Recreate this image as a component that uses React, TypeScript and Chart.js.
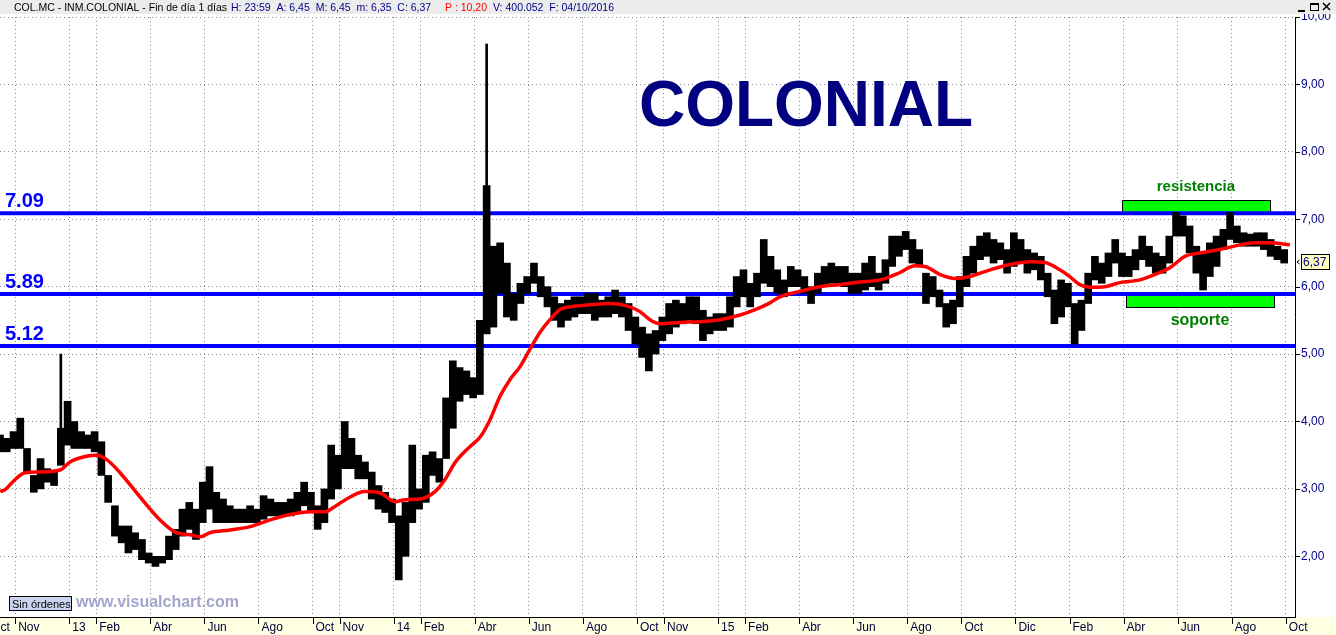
import React, { useEffect, useRef } from 'react';
import { Chart, registerables } from 'chart.js';

Chart.register(...registerables);

// ---------- DATA (months counted from 1 Oct 2012) ----------
const FIRST_BAR_MONTH = 0.44;
const BAR_STEP = 0.25; // one bar per ~week

const priceLow = [
  3.55, 3.55, 3.6, 3.6, 3.25, 2.95, 3.0, 3.1, 3.05, 3.35,
  3.65, 3.6, 3.6, 3.6, 3.55, 3.2, 2.8, 2.3, 2.2, 2.05,
  2.1, 1.95, 1.9, 1.85, 1.9, 1.95, 2.1, 2.3, 2.4, 2.25,
  2.5, 2.7, 2.5, 2.5, 2.5, 2.5, 2.5, 2.5, 2.5, 2.55,
  2.6, 2.6, 2.6, 2.6, 2.65, 2.75, 2.65, 2.4, 2.5, 2.85,
  3.0, 3.3, 3.3, 3.15, 3.15, 2.85, 2.7, 2.65, 2.5, 1.65,
  2.0, 2.5, 2.7, 2.8, 3.2, 3.1, 3.45, 3.9, 4.3, 4.4,
  4.35, 4.4, 5.3, 5.4, 5.9, 5.55, 5.5, 5.75, 5.9, 6.05,
  5.85, 5.7, 5.5, 5.4, 5.5, 5.55, 5.6, 5.6, 5.5, 5.55,
  5.55, 5.6, 5.55, 5.35, 5.15, 4.95, 4.75, 5.0, 5.2, 5.3,
  5.4, 5.45, 5.5, 5.45, 5.2, 5.3, 5.35, 5.35, 5.4, 5.7,
  5.85, 5.7, 5.85, 6.05, 6.0, 5.9, 5.85, 6.0, 6.0, 5.9,
  5.75, 5.9, 6.0, 6.05, 6.05, 6.0, 5.9, 5.9, 5.95, 6.0,
  5.95, 6.05, 6.3, 6.45, 6.55, 6.35, 6.3, 5.75, 5.85, 5.7,
  5.4, 5.45, 5.7, 6.0, 6.2, 6.4, 6.45, 6.35, 6.4, 6.2,
  6.3, 6.35, 6.2, 6.25, 6.1, 5.85, 5.45, 5.55, 5.7, 5.15,
  5.35, 5.75, 6.1, 6.05, 6.15, 6.35, 6.15, 6.15, 6.25, 6.4,
  6.3, 6.2, 6.2, 6.35, 6.75, 6.75, 6.5, 6.2, 5.95, 6.15,
  6.3, 6.55, 6.7, 6.65, 6.6, 6.6, 6.6, 6.55, 6.45, 6.4,
  6.35,
];

const priceHigh = [
  3.8, 3.75, 3.85, 4.05, 3.6, 3.2, 3.45, 3.3, 3.25, 3.9,
  4.3, 4.0, 3.85, 3.8, 3.85, 3.7, 3.2, 2.75, 2.45, 2.45,
  2.35, 2.25, 2.05, 2.0, 2.0, 2.3, 2.4, 2.7, 2.8, 2.7,
  3.1, 3.33, 2.95, 2.85, 2.75, 2.7, 2.7, 2.75, 2.7, 2.9,
  2.85, 2.8, 2.8, 2.85, 2.95, 3.1, 2.95, 2.75, 3.0, 3.65,
  3.5, 4.0, 3.75, 3.5, 3.4, 3.25, 3.05, 2.95, 2.85, 2.6,
  2.8, 3.65, 3.0, 3.5, 3.55, 3.45, 4.35, 4.9, 4.8, 4.75,
  4.65, 5.5, 7.5, 6.6, 6.65, 6.35, 5.9, 6.05, 6.15, 6.35,
  6.15, 6.0, 5.85, 5.75, 5.8, 5.85, 5.85, 5.9, 5.9, 5.8,
  5.85, 5.95, 5.85, 5.75, 5.55, 5.4, 5.3, 5.35, 5.55, 5.75,
  5.8, 5.75, 5.85, 5.85, 5.65, 5.55, 5.6, 5.6, 5.85, 6.15,
  6.25, 6.05, 6.2, 6.7, 6.45, 6.25, 6.1, 6.3, 6.25, 6.15,
  6.0, 6.2, 6.3, 6.35, 6.3, 6.3, 6.2, 6.2, 6.35, 6.45,
  6.2, 6.4, 6.75, 6.75, 6.82, 6.7, 6.55, 6.2, 6.15, 5.95,
  5.75, 5.8, 6.15, 6.45, 6.6, 6.75, 6.8, 6.7, 6.65, 6.55,
  6.8, 6.7, 6.55, 6.5, 6.45, 6.2, 5.95, 6.1, 6.05, 5.75,
  5.8, 6.2, 6.45, 6.35, 6.5, 6.7, 6.5, 6.45, 6.55, 6.75,
  6.6, 6.5, 6.45, 6.75, 7.1, 7.05, 6.9, 6.6, 6.5, 6.65,
  6.75, 6.85, 7.1, 6.9, 6.8, 6.78, 6.8, 6.8, 6.7, 6.6,
  6.55,
];

// thin spikes (wicks) on top of some bars
const wickBar = [9, 72];
const wickLow = [3.9, 7.5];
const wickHigh = [5.0, 9.6];

// red moving average
const maMonths = [
  0.45, 0.63, 1.0, 1.37, 1.92, 2.66, 3.03, 3.59, 4.03, 4.4, 4.88, 5.62, 6.36, 6.92, 7.47, 7.84,
  8.21, 8.95, 9.69, 10.43, 11.17, 11.91, 12.46, 12.83, 13.39, 13.94, 14.5, 15.05, 15.42,
  15.98, 16.53, 16.9, 17.27, 17.83, 18.2, 18.57, 18.93, 19.3, 19.67, 20.04, 20.41, 20.78,
  21.15, 21.52, 22.26, 23.0, 23.74, 24.11, 24.48, 24.85, 25.59, 26.33, 27.07, 27.81, 28.55,
  28.92, 29.29, 30.03, 30.77, 31.51, 32.25, 32.99, 33.73, 34.28, 34.65, 35.21, 35.76, 36.32,
  37.06, 37.8, 38.54, 39.09, 39.64, 40.01, 40.38, 40.75, 41.31, 41.86, 42.6, 43.34, 43.71,
  44.27, 44.82, 45.56, 46.3, 46.86, 47.41, 48.15,
];
const maValues = [
  2.96, 2.99, 3.14, 3.24, 3.25, 3.28, 3.4, 3.48, 3.5, 3.43, 3.24, 2.88, 2.54, 2.36, 2.32, 2.29,
  2.35, 2.39, 2.44, 2.54, 2.62, 2.66, 2.66, 2.74, 2.88, 2.96, 2.94, 2.81, 2.84,
  2.85, 2.96, 3.14, 3.39, 3.63, 3.77, 4.03, 4.37, 4.62, 4.81, 5.07, 5.32, 5.51,
  5.66, 5.7, 5.73, 5.75, 5.7, 5.63, 5.51, 5.45, 5.47, 5.48, 5.51, 5.58, 5.69,
  5.76, 5.85, 5.93, 6.0, 6.03, 6.07, 6.1, 6.21, 6.31, 6.3, 6.18, 6.12, 6.15,
  6.25, 6.33, 6.37, 6.36, 6.25, 6.15, 6.03, 5.99, 6.0, 6.06, 6.1, 6.21, 6.28,
  6.45, 6.5, 6.55, 6.62, 6.65, 6.65, 6.62,
];

const levelValues = [7.09, 5.89, 5.12];
const levelLabels = ['7.09', '5.89', '5.12'];

const monthTicks = [0, 1, 3, 4, 6, 8, 10, 12, 13, 15, 16, 18, 20, 22, 24, 25, 27, 28, 30, 32, 34, 36, 38, 40, 42, 44, 46, 48];
const monthLabels = ['Oct', 'Nov', '13', 'Feb', 'Abr', 'Jun', 'Ago', 'Oct', 'Nov', '14', 'Feb', 'Abr', 'Jun', 'Ago', 'Oct', 'Nov', '15', 'Feb', 'Abr', 'Jun', 'Ago', 'Oct', 'Dic', 'Feb', 'Abr', 'Jun', 'Ago', 'Oct'];

const priceTicks = [2, 3, 4, 5, 6, 7, 8, 9, 10];

const X_MIN = 0.44;
const X_MAX = 48.34;
const Y_MIN = 1.1;
const Y_MAX = 10;

const resistanceBox = { fromMonth: 41.94, toMonth: 47.41, low: 7.09, high: 7.285 };
const supportBox = { fromMonth: 42.09, toMonth: 47.56, low: 5.7, high: 5.89 };

const lastPrice = 6.37;

const headerParts: [string, string, number][] = [
  ['COL.MC - INM.COLONIAL - Fin de día 1 días', '#000000', 14],
  ['H: 23:59  A: 6,45  M: 6,45  m: 6,35  C: 6,37', '#00008b', 231],
  ['P : 10,20', '#ff0000', 445],
  ['V: 400.052  F: 04/10/2016', '#00008b', 493],
];

// ---------- STYLE ----------
const FONT = '"Liberation Sans", Arial, Helvetica, sans-serif';

const decorPlugin = {
  id: 'decor',
  beforeDraw(chart: any) {
    const { ctx, width, height, chartArea } = chart;
    ctx.save();
    ctx.fillStyle = '#ffffff';
    ctx.fillRect(0, 0, width, height);
    ctx.fillStyle = '#ffffe1';
    ctx.fillRect(0, chartArea.bottom, width, height - chartArea.bottom);
    ctx.restore();
  },
  beforeDatasetsDraw(chart: any) {
    const { ctx } = chart;
    const x = chart.scales.x;
    const y = chart.scales.y;
    ctx.save();
    for (const b of [resistanceBox, supportBox]) {
      const x1 = Math.round(x.getPixelForValue(b.fromMonth));
      const x2 = Math.round(x.getPixelForValue(b.toMonth));
      const y1 = Math.round(y.getPixelForValue(b.high));
      const y2 = Math.round(y.getPixelForValue(b.low));
      ctx.fillStyle = '#00ff00';
      ctx.fillRect(x1, y1, x2 - x1, y2 - y1);
      ctx.strokeStyle = '#000000';
      ctx.lineWidth = 1;
      ctx.strokeRect(x1 + 0.5, y1 + 0.5, x2 - x1, y2 - y1);
    }
    ctx.restore();
  },
  afterDatasetsDraw(chart: any) {
    const { ctx, chartArea } = chart;
    const x = chart.scales.x;
    const y = chart.scales.y;
    ctx.save();
    // level labels
    ctx.font = `bold 20px ${FONT}`;
    ctx.fillStyle = '#0000ff';
    ctx.textAlign = 'left';
    ctx.textBaseline = 'alphabetic';
    levelValues.forEach((v, i) => {
      ctx.fillText(levelLabels[i], chartArea.left + 5, y.getPixelForValue(v) - 6);
    });
    // title
    ctx.font = `bold 64px ${FONT}`;
    ctx.fillStyle = '#000080';
    ctx.textAlign = 'center';
    ctx.fillText('COLONIAL', 806, 126);
    // box captions
    ctx.fillStyle = '#008000';
    ctx.font = `bold 15px ${FONT}`;
    const rx = (x.getPixelForValue(resistanceBox.fromMonth) + x.getPixelForValue(resistanceBox.toMonth)) / 2;
    ctx.fillText('resistencia', rx, y.getPixelForValue(resistanceBox.high) - 9);
    ctx.font = `bold 16px ${FONT}`;
    const sx = (x.getPixelForValue(supportBox.fromMonth) + x.getPixelForValue(supportBox.toMonth)) / 2;
    ctx.fillText('soporte', sx, y.getPixelForValue(supportBox.low) + 18);
    // bottom-left badge and watermark
    ctx.fillStyle = '#c8d4f0';
    ctx.fillRect(9, 596, 63, 15);
    ctx.strokeStyle = '#000000';
    ctx.lineWidth = 1;
    ctx.strokeRect(9.5, 596.5, 62, 14);
    ctx.fillStyle = '#000000';
    ctx.textAlign = 'left';
    ctx.font = `11px ${FONT}`;
    ctx.fillText('Sin órdenes', 12, 608);
    ctx.font = `bold 16px ${FONT}`;
    ctx.fillStyle = '#a4a4cc';
    ctx.fillText('www.visualchart.com', 76, 607);
    ctx.restore();
  },
  afterDraw(chart: any) {
    const { ctx, width, chartArea } = chart;
    const x = chart.scales.x;
    const y = chart.scales.y;
    ctx.save();
    // x tick marks
    ctx.strokeStyle = '#000000';
    ctx.lineWidth = 1;
    monthTicks.forEach((m) => {
      const px = Math.round(x.getPixelForValue(m)) + 0.5;
      if (px < 0 || px > width) return;
      ctx.beginPath();
      ctx.moveTo(px, chartArea.bottom + 1);
      ctx.lineTo(px, chartArea.bottom + 7);
      ctx.stroke();
    });
    // y tick marks
    priceTicks.forEach((v) => {
      const py = Math.round(y.getPixelForValue(v)) + 0.5;
      ctx.beginPath();
      ctx.moveTo(chartArea.right + 1, py);
      ctx.lineTo(chartArea.right + 5, py);
      ctx.stroke();
    });
    // last price tag
    const py = Math.round(y.getPixelForValue(lastPrice));
    ctx.fillStyle = '#ffffc0';
    ctx.fillRect(chartArea.right + 6, py - 8, 29, 16);
    ctx.strokeRect(chartArea.right + 6.5, py - 7.5, 28, 15);
    ctx.beginPath();
    ctx.moveTo(chartArea.right + 4.5, py - 2);
    ctx.lineTo(chartArea.right + 2, py);
    ctx.lineTo(chartArea.right + 4.5, py + 2);
    ctx.stroke();
    ctx.fillStyle = '#00008b';
    ctx.font = `12px ${FONT}`;
    ctx.textAlign = 'left';
    ctx.textBaseline = 'middle';
    ctx.fillText(lastPrice.toFixed(2).replace('.', ','), chartArea.right + 8, py + 1);
    // header bar
    ctx.fillStyle = '#ececec';
    ctx.fillRect(0, 0, width, 14);
    ctx.font = `10.5px ${FONT}`;
    ctx.textBaseline = 'alphabetic';
    headerParts.forEach(([t, c, hx]) => {
      ctx.fillStyle = c;
      ctx.fillText(t, hx, 11);
    });
    // window buttons
    ctx.strokeStyle = '#000000';
    ctx.lineWidth = 2;
    ctx.beginPath();
    ctx.moveTo(1298, 11); ctx.lineTo(1305, 11);
    ctx.stroke();
    ctx.lineWidth = 1;
    ctx.strokeRect(1310.5, 3.5, 8, 7);
    ctx.beginPath();
    ctx.moveTo(1310.5, 4.5); ctx.lineTo(1318.5, 4.5);
    ctx.stroke();
    ctx.lineWidth = 1.5;
    ctx.beginPath();
    ctx.moveTo(1323, 3); ctx.lineTo(1330, 10);
    ctx.moveTo(1330, 3); ctx.lineTo(1323, 10);
    ctx.stroke();
    ctx.restore();
  },
};

export default function App() {
  const ref = useRef<HTMLCanvasElement>(null);

  useEffect(() => {
    const canvas = ref.current;
    if (!canvas) return;

    const barData = priceLow.map((lo, k) => ({ x: FIRST_BAR_MONTH + k * BAR_STEP, y: [lo, priceHigh[k]] }));
    const wickData = wickBar.map((k, i) => ({ x: FIRST_BAR_MONTH + k * BAR_STEP, y: [wickLow[i], wickHigh[i]] }));
    const maData = maMonths.map((m, i) => ({ x: m, y: maValues[i] }));

    const levelSets = levelValues.map((v) => ({
      type: 'line' as const,
      data: [{ x: X_MIN, y: v }, { x: X_MAX, y: v }],
      borderColor: '#0000ff',
      borderWidth: 4,
      pointRadius: 0,
      order: 3,
    }));

    const chart = new Chart(canvas, {
      type: 'bar',
      data: {
        datasets: [
          {
            type: 'line',
            data: maData,
            borderColor: '#ff0000',
            borderWidth: 3.5,
            pointRadius: 0,
            cubicInterpolationMode: 'monotone',
            order: 0,
          } as any,
          {
            type: 'bar',
            data: barData,
            backgroundColor: '#000000',
            borderWidth: 0,
            barThickness: 7,
            grouped: false,
            order: 1,
          } as any,
          {
            type: 'bar',
            data: wickData,
            backgroundColor: '#000000',
            borderWidth: 0,
            barThickness: 2,
            grouped: false,
            order: 1,
          } as any,
          ...levelSets,
        ],
      },
      options: {
        responsive: false,
        animation: false,
        devicePixelRatio: 1,
        events: [],
        layout: { padding: { top: 17, left: 0, right: 0, bottom: 0 } },
        plugins: {
          legend: { display: false },
          tooltip: { enabled: false },
          title: { display: false },
        },
        scales: {
          x: {
            type: 'linear',
            position: 'bottom',
            min: X_MIN,
            max: X_MAX,
            offset: false,
            bounds: 'data',
            afterBuildTicks: (s: any) => {
              s.ticks = monthTicks.map((v) => ({ value: v }));
            },
            afterFit: (s: any) => {
              s.height = 18;
              s.paddingLeft = 0;
              s.paddingRight = 0;
            },
            ticks: {
              autoSkip: false,
              maxRotation: 0,
              minRotation: 0,
              align: 'start',
              labelOffset: 3,
              padding: 3,
              color: '#000040',
              font: { family: FONT, size: 12 },
              callback: (v: any) => monthLabels[monthTicks.indexOf(Number(v))],
            },
            grid: { color: '#8a8a8a', lineWidth: 1, drawTicks: false, offset: false },
            border: { display: true, color: '#000000', width: 1, dash: [1, 3] },
          } as any,
          y: {
            type: 'linear',
            position: 'right',
            min: Y_MIN,
            max: Y_MAX,
            afterBuildTicks: (s: any) => {
              s.ticks = priceTicks.map((v) => ({ value: v }));
            },
            afterFit: (s: any) => {
              s.width = 41;
              s.paddingTop = 0;
              s.paddingBottom = 0;
            },
            ticks: {
              padding: 6,
              color: '#00008b',
              font: { family: FONT, size: 12 },
              callback: (v: any) => Number(v).toFixed(2).replace('.', ','),
            },
            grid: { color: '#8a8a8a', lineWidth: 1, drawTicks: false },
            border: { display: true, color: '#000000', width: 1, dash: [1, 3] },
          } as any,
        },
      },
      plugins: [decorPlugin],
    });

    return () => chart.destroy();
  }, []);

  return (
    <div style={{ position: 'absolute', left: 0, top: 0, width: 1336, height: 635 }}>
      <canvas ref={ref} width={1336} height={635} style={{ display: 'block', width: 1336, height: 635 }} />
    </div>
  );
}
